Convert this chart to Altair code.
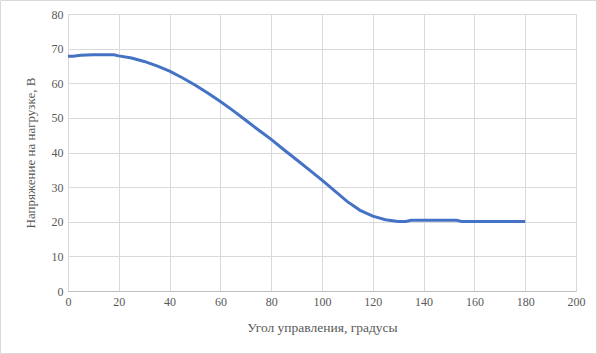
import altair as alt
import pandas as pd

angle = [0, 2, 5, 10, 15, 18, 20, 25, 30, 35, 40, 45, 50, 55, 60, 65, 70, 75, 80, 85,
         90, 95, 100, 105, 110, 115, 120, 125, 130, 133, 135, 140, 145, 150, 153, 155,
         160, 170, 180]
voltage = [67.8, 67.8, 68.1, 68.2, 68.2, 68.2, 67.9, 67.3, 66.3, 65.0, 63.5, 61.6, 59.5,
           57.2, 54.7, 52.1, 49.3, 46.5, 43.8, 40.8, 37.9, 35.0, 32.0, 28.9, 25.8, 23.3,
           21.6, 20.6, 20.1, 20.1, 20.4, 20.4, 20.4, 20.4, 20.4, 20.1, 20.1, 20.1, 20.1]

x_ticks = list(range(0, 201, 20))
y_ticks = list(range(0, 81, 10))

df = pd.DataFrame({"angle": angle, "voltage": voltage})

FONT = "Liberation Serif"
GRAY = "#595959"

line = alt.Chart(df).mark_line(color="#4472C4", strokeWidth=3).encode(
    x=alt.X("angle:Q",
            scale=alt.Scale(domain=[0, 200], nice=False),
            axis=alt.Axis(values=x_ticks, title="Угол управления, градусы",
                          grid=True, gridColor="#d9d9d9", domainColor="#bfbfbf",
                          ticks=False, labelPadding=5, titlePadding=13,
                          labelFlush=False,
                          labelFont=FONT, titleFont=FONT, labelFontSize=12,
                          titleFontSize=13.5, labelColor=GRAY, titleColor=GRAY,
                          titleFontWeight="normal")),
    y=alt.Y("voltage:Q",
            scale=alt.Scale(domain=[0, 80], nice=False),
            axis=alt.Axis(values=y_ticks, title="Напряжение на нагрузке, В",
                          grid=True, gridColor="#d9d9d9", domain=False,
                          ticks=False, labelPadding=5, titlePadding=14,
                          labelFlush=False,
                          labelFont=FONT, titleFont=FONT, labelFontSize=12,
                          titleFontSize=13, labelColor=GRAY, titleColor=GRAY,
                          titleFontWeight="normal")),
)

border = alt.Chart(pd.DataFrame({"a": [0]})).mark_rect(
    fill=None, stroke="#d9d9d9", strokeWidth=1
).encode(
    x=alt.value(-67.5), x2=alt.value(528.5),
    y=alt.value(-13.5), y2=alt.value(339.5)
)

chart = alt.layer(border, line).properties(
    width=508, height=277,
    padding={"left": 68, "top": 14, "right": 21, "bottom": 63},
    autosize=alt.AutoSizeParams(type="none"),
).configure_view(stroke=None).configure(background="white")

chart.save("out.html", embed_options={"renderer": "svg", "actions": False})
